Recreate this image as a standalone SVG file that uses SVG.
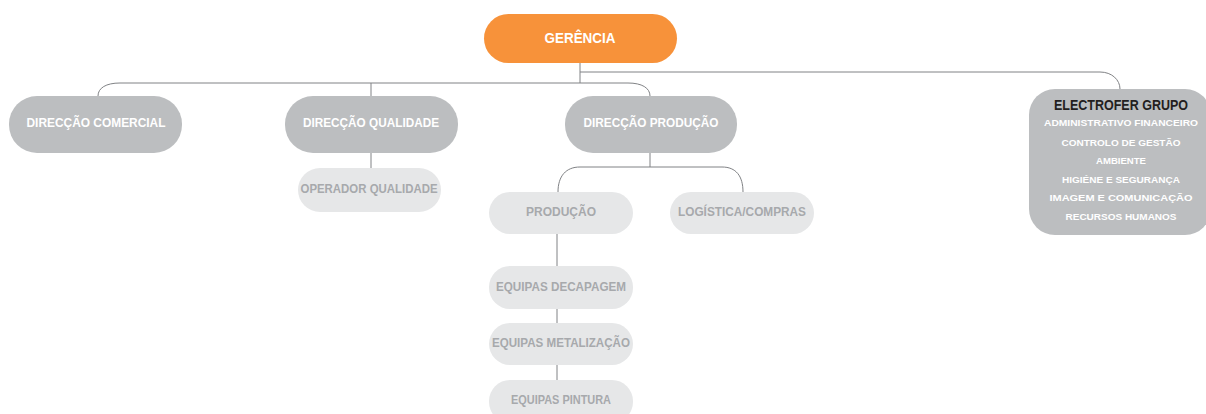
<svg xmlns="http://www.w3.org/2000/svg" width="1206" height="414" viewBox="0 0 1206 414">
<style>
text{font-family:"Liberation Sans",Arial,sans-serif;font-weight:bold;text-anchor:middle;dominant-baseline:central}
.l1{fill:#F7923A}
.l2{fill:#BCBEC0}
.l3{fill:#E6E7E8}
.t1{fill:#fff;font-size:14px}
.t2{fill:#fff;font-size:12px}
.t3{fill:#A7A9AC;font-size:12px}
.t4{fill:#231F20;font-size:14px}
.t5{fill:#fff;font-size:9.5px}
.c{fill:none;stroke:#808285;stroke-width:1}
</style>
<rect width="1206" height="414" fill="#fff"/>
<g id="connectors">
<path class="c" d="M580,63 V83"/>
<path class="c" d="M98,96 C98,88 106,83 120,83 H628 C642,83 650,88 650,96"/>
<path class="c" d="M371,83 V96"/>
<path class="c" d="M580,72 H1100 C1112,72 1120,80 1120,89"/>
<path class="c" d="M371,153 V168"/>
<path class="c" d="M650,153 V167"/>
<path class="c" d="M558,192 C558,176 566,167 580,167 H722 C736,167 743,176 743,192"/>
<path class="c" d="M557,234 V266"/>
<path class="c" d="M557,309 V323"/>
<path class="c" d="M557,365 V380"/>
</g>
<g id="gerencia"><rect class="l1" x="484" y="14" width="193" height="49" rx="24.5"/><text class="t1" x="580" y="38" textLength="71" lengthAdjust="spacingAndGlyphs">GERÊNCIA</text></g>
<g id="dir-comercial"><rect class="l2" x="9" y="96" width="173" height="57" rx="28"/><text class="t2" x="96" y="123" textLength="139" lengthAdjust="spacingAndGlyphs">DIRECÇÃO COMERCIAL</text></g>
<g id="dir-qualidade"><rect class="l2" x="285" y="96" width="173" height="57" rx="28"/><text class="t2" x="371" y="123" textLength="136" lengthAdjust="spacingAndGlyphs">DIRECÇÃO QUALIDADE</text></g>
<g id="dir-producao"><rect class="l2" x="565" y="96" width="172" height="57" rx="28"/><text class="t2" x="651" y="123" textLength="135" lengthAdjust="spacingAndGlyphs">DIRECÇÃO PRODUÇÃO</text></g>
<g id="operador-qualidade"><rect class="l3" x="298" y="168" width="143" height="44" rx="22"/><text class="t3" x="369" y="189" textLength="137" lengthAdjust="spacingAndGlyphs">OPERADOR QUALIDADE</text></g>
<g id="producao"><rect class="l3" x="489" y="192" width="144" height="42" rx="21"/><text class="t3" x="561" y="212" textLength="70" lengthAdjust="spacingAndGlyphs">PRODUÇÃO</text></g>
<g id="logistica"><rect class="l3" x="670" y="192" width="144" height="42" rx="21"/><text class="t3" x="742" y="212" textLength="128" lengthAdjust="spacingAndGlyphs">LOGÍSTICA/COMPRAS</text></g>
<g id="equipas-decapagem"><rect class="l3" x="489" y="266" width="144" height="43" rx="21"/><text class="t3" x="561" y="287" textLength="130" lengthAdjust="spacingAndGlyphs">EQUIPAS DECAPAGEM</text></g>
<g id="equipas-metalizacao"><rect class="l3" x="489" y="323" width="144" height="42" rx="21"/><text class="t3" x="561" y="343" textLength="138" lengthAdjust="spacingAndGlyphs">EQUIPAS METALIZAÇÃO</text></g>
<g id="equipas-pintura"><rect class="l3" x="489" y="380" width="144" height="43" rx="21"/><text class="t3" x="561" y="400" textLength="100" lengthAdjust="spacingAndGlyphs">EQUIPAS PINTURA</text></g>
<g id="electrofer">
<rect class="l2" x="1029" y="89" width="182" height="146" rx="26"/>
<text class="t4" x="1121" y="104.5" textLength="134" lengthAdjust="spacingAndGlyphs">ELECTROFER GRUPO</text>
<text class="t5" x="1121" y="122.5" textLength="154" lengthAdjust="spacingAndGlyphs">ADMINISTRATIVO FINANCEIRO</text>
<text class="t5" x="1121" y="142" textLength="119" lengthAdjust="spacingAndGlyphs">CONTROLO DE GESTÃO</text>
<text class="t5" x="1121" y="160" textLength="50" lengthAdjust="spacingAndGlyphs">AMBIENTE</text>
<text class="t5" x="1121" y="179" textLength="118" lengthAdjust="spacingAndGlyphs">HIGIÉNE E SEGURANÇA</text>
<text class="t5" x="1121" y="197" textLength="143" lengthAdjust="spacingAndGlyphs">IMAGEM E COMUNICAÇÃO</text>
<text class="t5" x="1121" y="216" textLength="111" lengthAdjust="spacingAndGlyphs">RECURSOS HUMANOS</text>
</g>
</svg>
